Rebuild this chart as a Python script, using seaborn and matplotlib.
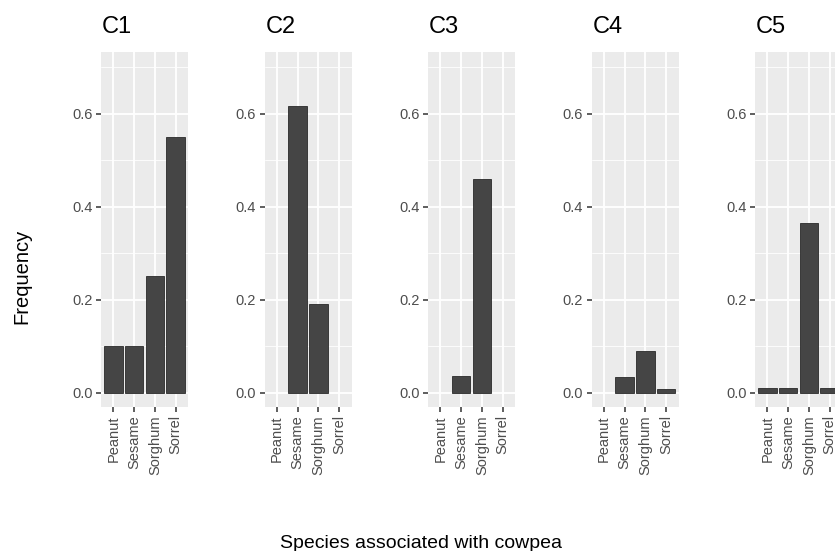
import pandas as pd
import matplotlib
matplotlib.use("Agg")
import matplotlib.pyplot as plt
import seaborn as sns

# frequency of each species associated with cowpea, per cluster
species = ["Peanut", "Sesame", "Sorghum", "Sorrel"]
clusters = ["C1", "C2", "C3", "C4", "C5"]
c1 = [0.10, 0.10, 0.25, 0.55]
c2 = [0.0, 0.617, 0.19, 0.0]
c3 = [0.0, 0.035, 0.46, 0.0]
c4 = [0.0, 0.033, 0.09, 0.008]
c5 = [0.01, 0.01, 0.365, 0.01]
values = [c1, c2, c3, c4, c5]

sns.set_theme(style="darkgrid", rc={
    "axes.facecolor": "#EBEBEB",
    "grid.color": "white",
    "xtick.color": "#333333",
    "ytick.color": "#333333",
})
plt.rcParams["font.family"] = ["Liberation Sans", "DejaVu Sans"]

fig = plt.figure(figsize=(8.35, 5.51), dpi=100)
W, H = 835, 551

for i, (name, vals) in enumerate(zip(clusters, values)):
    left = 101 + i * 163.5
    ax = fig.add_axes([left / W, (H - 407) / H, 87 / W, 355 / H])
    df = pd.DataFrame({"Species": species, "Frequency": vals})
    sns.barplot(data=df, x="Species", y="Frequency", color="#454545",
                saturation=1, width=0.9, edgecolor="#2a2a2a", linewidth=0.6, ax=ax)
    # no outline on empty bars
    for p in ax.patches:
        if p.get_height() == 0:
            p.set_linewidth(0)
    ax.set_xlim(-0.6, 3.6)
    ax.set_ylim(-0.031, 0.733)
    ax.set_yticks([0.0, 0.2, 0.4, 0.6])
    ax.set_yticklabels(["0.0", "0.2", "0.4", "0.6"])
    ax.set_yticks([0.1, 0.3, 0.5, 0.7], minor=True)
    ax.grid(True, which="major", color="white", linewidth=1.3)
    ax.grid(True, which="minor", axis="y", color="white", linewidth=0.6)
    ax.set_axisbelow(True)
    for s in ax.spines.values():
        s.set_visible(False)
    ax.tick_params(axis="both", which="major", length=3.5, width=1.1,
                   labelsize=10.5, labelcolor="#4D4D4D", pad=2.5, left=True, bottom=True)
    ax.tick_params(axis="both", which="minor", length=0)
    ax.set_xticks(range(len(species)))
    ax.set_xticklabels(species, rotation=90, va="top", ha="center")
    ax.set_xlabel("")
    ax.set_ylabel("")
    ax.set_title(name, loc="left", fontsize=17, color="black", pad=14, x=0.01)

fig.text(22 / W, 1 - 276 / H, "Frequency", rotation=90, ha="center", va="center",
         fontsize=14.5, color="black")
fig.text(421 / W, 1 - 548 / H, "Species associated with cowpea", ha="center",
         va="baseline", fontsize=14, color="black")

fig.savefig("out.png", dpi=100)
